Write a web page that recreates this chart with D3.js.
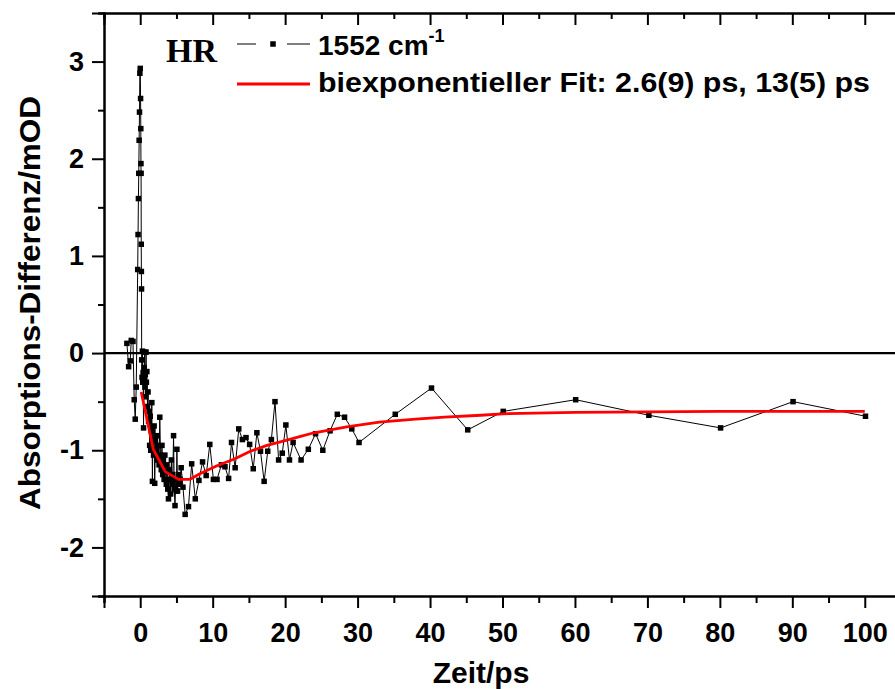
<!DOCTYPE html>
<html>
<head>
<meta charset="utf-8">
<script src="https://cdn.jsdelivr.net/npm/d3@7"></script>
<style>
  html, body { margin: 0; padding: 0; background: #fff; }
  svg { display: block; }
  text { font-family: "Liberation Sans", Arial, Helvetica, sans-serif; font-weight: bold; fill: #000; }
</style>
</head>
<body>
<svg id="chart" width="895" height="689"></svg>
<script>
// Transient absorption difference at 1552 cm-1 (delay times in ps, signal in mOD)
const delayTimes = [
  -1.84, -1.6, -1.38, -1.24, -1.0, -0.83, -0.69, -0.55,
  -0.35, -0.3, -0.25, -0.2, -0.15, -0.1, -0.05, 0.0, 0.05, 0.08, 0.1, 0.12, 0.14, 0.16, 0.18,
  0.20, 0.25, 0.30, 0.35, 0.40, 0.46, 0.50, 0.55, 0.60, 0.65, 0.70, 0.75, 0.80, 0.85, 0.92,
  1.00, 1.08, 1.15, 1.22, 1.30, 1.38, 1.45, 1.52, 1.60, 1.68, 1.75, 1.84, 1.92, 2.00,
  2.10, 2.20, 2.30, 2.40, 2.50, 2.60, 2.70, 2.80, 2.90, 3.00, 3.10, 3.20, 3.30, 3.40,
  3.50, 3.60, 3.70, 3.80, 3.90, 4.00, 4.10, 4.20, 4.30, 4.40, 4.50, 4.60, 4.70, 4.80,
  4.90, 5.00, 5.06, 5.15, 5.30, 5.40, 5.50, 5.65, 5.90, 6.20, 6.66,
  7.1, 7.6, 8.1, 8.6, 9.1, 9.6, 10.1, 10.6, 11.2, 11.7, 12.2, 12.6, 13.1, 13.6, 14.1,
  14.6, 15.1, 15.6, 16.1, 16.6, 17.1, 17.6, 18.1, 18.6, 19.1, 19.6, 20.1, 20.6, 21.1,
  22.2, 23.2, 24.2, 25.2, 26.2, 27.2, 28.2, 29.2, 30.2,
  35.2, 40.2, 45.2, 50.1, 60.1, 70.2, 80.1, 90.1, 100.1
];
const signal1552 = [
  0.10, -0.14, -0.08, 0.13, 0.12, -0.48, -0.68, -0.35,
  0.86, 1.22, 1.59, 1.85, 2.19, 2.48, 2.88, 2.93, 2.62, 2.31, 1.95, 1.85, 1.12, 0.84, 0.66,
  -0.07, -0.25, 0.02, -0.30, -0.20, -0.77, -0.28, -0.15, 0.01, -0.35, -0.22, -0.45, 0.01, -0.30, -0.19,
  -0.55, -0.40, -0.70, -0.60, -0.95, -0.65, -1.00, -0.80, -0.51, -1.32, -0.80, -1.05, -0.75, -1.34,
  -0.90, -1.00, -0.85, -1.10, -0.95, -1.15, -0.66, -1.05, -1.20, -0.95, -1.25, -1.10, -1.30, -1.05,
  -1.22, -1.35, -1.15, -1.40, -1.50, -1.20, -1.30, -1.45, -1.10, -1.35, -1.25, -0.85, -1.40, -1.57,
  -1.30, -1.42, -0.99, -1.42, -1.25, -1.35, -1.30, -1.18, -1.38, -1.66, -1.58,
  -1.14, -1.50, -1.31, -1.12, -1.26, -0.94, -1.30, -1.30, -1.15, -1.17, -1.29, -0.92, -1.18, -0.78, -0.89,
  -0.87, -0.94, -1.19, -0.82, -1.01, -1.32, -1.01, -0.89, -0.50, -1.10, -1.03, -0.74, -1.10, -0.92,
  -1.10, -0.99, -0.83, -1.00, -0.80, -0.63, -0.66, -0.78, -0.92,
  -0.63, -0.36, -0.79, -0.60, -0.48, -0.64, -0.77, -0.50, -0.65
];

// Biexponential fit curve (2.6 ps and 13 ps components)
const fitTimes = [0.14, 1.8, 3.45, 5.3, 6.8, 8.3, 10.6, 13, 15.2, 17.5, 20, 22, 24, 28.5, 33, 38, 42, 47, 50, 60, 70, 80, 90, 100];
const fitValues = [-0.40, -0.99, -1.22, -1.30, -1.30, -1.24, -1.16, -1.09, -1.01, -0.95, -0.90, -0.86, -0.82, -0.76, -0.71, -0.68, -0.66, -0.64, -0.625, -0.61, -0.605, -0.60, -0.60, -0.60];

const xMajorTicks = [0, 10, 20, 30, 40, 50, 60, 70, 80, 90, 100];
const xMinorTicks = [-5, 5, 15, 25, 35, 45, 55, 65, 75, 85, 95, 105];
const yMajorTicks = [-2, -1, 0, 1, 2, 3];
const yMinorTicks = [-2.5, -1.5, -0.5, 0.5, 1.5, 2.5, 3.5];

const svg = d3.select("#chart");
const plot = { left: 104, right: 901, top: 13, bottom: 596 };

const x = d3.scaleLinear().domain([-5, 105]).range([plot.left, plot.right]);
const y = d3.scaleLinear().domain([-2.5, 3.5]).range([plot.bottom, plot.top]);

// integer labels with a plain hyphen as the minus sign
const intLabel = d => String(d);
const tickLabel = "27px";

// Bottom axis (major with labels, minor without)
const gBottom = svg.append("g").attr("transform", `translate(0,${plot.bottom})`);
gBottom.call(d3.axisBottom(x).tickValues(xMajorTicks).tickSize(12).tickPadding(10).tickFormat(intLabel));
gBottom.append("g").call(d3.axisBottom(x).tickValues(xMinorTicks).tickSize(7).tickFormat(""));

// Top axis, ticks pointing into the plot
const gTop = svg.append("g").attr("transform", `translate(0,${plot.top})`);
gTop.call(d3.axisBottom(x).tickValues(xMajorTicks).tickSize(12).tickFormat(""));
gTop.append("g").call(d3.axisBottom(x).tickValues(xMinorTicks).tickSize(6).tickFormat(""));

// Left axis
const gLeft = svg.append("g").attr("transform", `translate(${plot.left},0)`);
gLeft.call(d3.axisLeft(y).tickValues(yMajorTicks).tickSize(12).tickPadding(8).tickFormat(intLabel));
gLeft.append("g").call(d3.axisLeft(y).tickValues(yMinorTicks).tickSize(6).tickFormat(""));

svg.selectAll(".domain").attr("stroke", "#000").attr("stroke-width", 2);
svg.selectAll(".tick line").attr("stroke", "#000").attr("stroke-width", 2);
svg.selectAll(".tick text")
  .style("font-size", tickLabel)
  .style("font-family", "'Liberation Sans', Arial, sans-serif")
  .style("font-weight", "bold")
  .attr("fill", "#000");
gBottom.selectAll(".tick text").attr("dy", "0.9em");
// the minor-tick groups draw their own domain path; hide those duplicates
gBottom.select("g").select(".domain").remove();
gTop.select("g").select(".domain").remove();
gLeft.select("g").select(".domain").remove();

// Zero line
svg.append("line")
  .attr("x1", x(-5)).attr("x2", x(105))
  .attr("y1", y(0)).attr("y2", y(0))
  .attr("stroke", "#000").attr("stroke-width", 2.2);

// Measured data: thin line with square markers
const points = delayTimes.map((t, i) => [t, signal1552[i]]);
const line = d3.line().x(d => x(d[0])).y(d => y(d[1]));
svg.append("path")
  .datum(points)
  .attr("d", line)
  .attr("fill", "none")
  .attr("stroke", "#000")
  .attr("stroke-width", 1);
svg.append("g").selectAll("rect")
  .data(points)
  .join("rect")
  .attr("x", d => x(d[0]) - 2.75)
  .attr("y", d => y(d[1]) - 2.75)
  .attr("width", 5.5).attr("height", 5.5)
  .attr("fill", "#000");

// Fit curve
const fitPoints = fitTimes.map((t, i) => [t, fitValues[i]]);
svg.append("path")
  .datum(fitPoints)
  .attr("d", line)
  .attr("fill", "none")
  .attr("stroke", "#ff0000")
  .attr("stroke-width", 2.8)
  .attr("stroke-linejoin", "round");

// Axis titles
svg.append("text")
  .attr("x", 481).attr("y", 683)
  .attr("text-anchor", "middle")
  .style("font-size", "30px")
  .text("Zeit/ps");
svg.append("text")
  .attr("transform", "translate(40,303) rotate(-90)")
  .attr("text-anchor", "middle")
  .style("font-size", "30px")
  .attr("textLength", 414).attr("lengthAdjust", "spacingAndGlyphs")
  .text("Absorptions-Differenz/mOD");

// Sample label
svg.append("text")
  .attr("x", 166).attr("y", 62)
  .style("font-family", "'Liberation Serif', 'Times New Roman', serif")
  .style("font-size", "34px")
  .text("HR");

// Legend
const leg = svg.append("g");
leg.append("line").attr("x1", 237).attr("x2", 256).attr("y1", 44).attr("y2", 44).attr("stroke", "#000").attr("stroke-width", 1);
leg.append("line").attr("x1", 287).attr("x2", 310).attr("y1", 44).attr("y2", 44).attr("stroke", "#000").attr("stroke-width", 1);
leg.append("rect").attr("x", 270.25).attr("y", 41.25).attr("width", 5.5).attr("height", 5.5).attr("fill", "#000");
const t1 = leg.append("text").attr("x", 318).attr("y", 55).style("font-size", "28px");
t1.append("tspan").text("1552 cm");
t1.append("tspan").attr("dy", -13).style("font-size", "18px").text("-1");

leg.append("line").attr("x1", 237).attr("x2", 310).attr("y1", 84).attr("y2", 84).attr("stroke", "#ff0000").attr("stroke-width", 2.8);
leg.append("text").attr("x", 318).attr("y", 92).style("font-size", "28px")
  .attr("textLength", 552).attr("lengthAdjust", "spacingAndGlyphs")
  .text("biexponentieller Fit: 2.6(9) ps, 13(5) ps");
</script>
</body>
</html>
